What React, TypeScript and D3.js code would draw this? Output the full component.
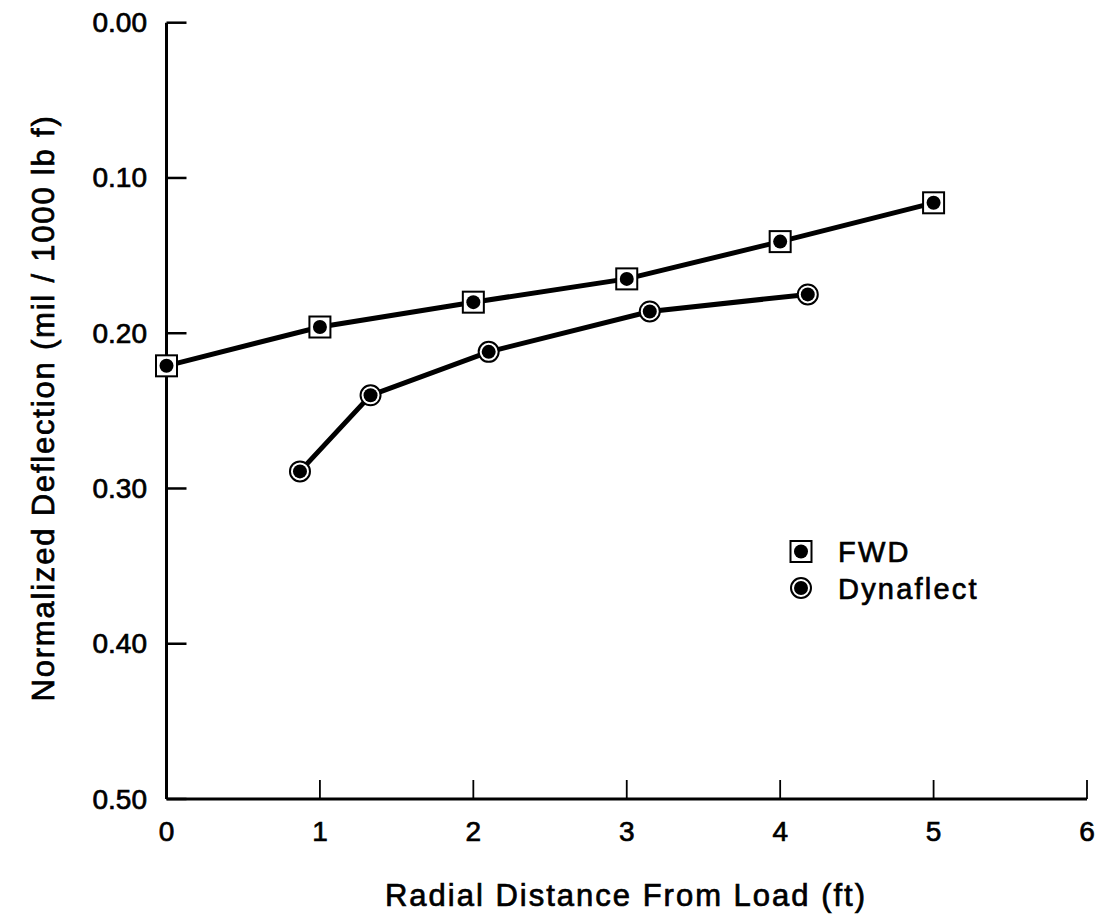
import React from "react";
import * as d3 from "d3";

const fwdX = [0, 1, 2, 3, 4, 5];
const fwdY = [0.221, 0.196, 0.18, 0.165, 0.141, 0.116];
const dynX = [0.87, 1.33, 2.1, 3.15, 4.18];
const dynY = [0.289, 0.24, 0.212, 0.186, 0.175];
const xTicks = [1, 2, 3, 4, 5, 6];
const xTickLabels = ["0", "1", "2", "3", "4", "5", "6"];
const yTicks = [0, 0.1, 0.2, 0.3, 0.4, 0.5];
const yTickLabels = ["0.00", "0.10", "0.20", "0.30", "0.40", "0.50"];

const W = 1104, H = 920;
const font = "'Liberation Sans', Arial, Helvetica, sans-serif";
const textStyle = { stroke: "#000", strokeWidth: 0.7 } as const;

export default function App() {
  const x = d3.scaleLinear().domain([0, 6]).range([166.5, 1087]);
  const y = d3.scaleLinear().domain([0, 0.5]).range([22.7, 799]);
  const line = d3.line<[number, number]>().x(d => x(d[0])).y(d => y(d[1]));
  const fwd: [number, number][] = fwdX.map((v, i) => [v, fwdY[i]]);
  const dyn: [number, number][] = dynX.map((v, i) => [v, dynY[i]]);

  const Square = ({ cx, cy }: { cx: number; cy: number }) => (
    <g>
      <rect x={cx - 10.5} y={cy - 10.5} width={21} height={21} fill="#fff" stroke="#000" strokeWidth={2} />
      <circle cx={cx} cy={cy} r={7} fill="#000" />
    </g>
  );
  const Ring = ({ cx, cy }: { cx: number; cy: number }) => (
    <g>
      <circle cx={cx} cy={cy} r={10} fill="#fff" stroke="#000" strokeWidth={2} />
      <circle cx={cx} cy={cy} r={7} fill="#000" />
    </g>
  );

  return (
    <svg width={W} height={H} style={{ position: "absolute", left: 0, top: 0, background: "#fff" }} fontFamily={font}>
      {/* axes */}
      <line x1={x(0)} x2={x(0)} y1={y(0)} y2={y(0.5)} stroke="#000" strokeWidth={3} />
      <line x1={x(0)} x2={x(6)} y1={y(0.5)} y2={y(0.5)} stroke="#000" strokeWidth={3} />
      {yTicks.map((t, i) => (
        <g key={"y" + i}>
          <line x1={x(0)} x2={x(0) + 20} y1={y(t)} y2={y(t)} stroke="#000" strokeWidth={2.5} />
          <text x={147} y={y(t)} textAnchor="end" dominantBaseline="central" fontSize={28} {...textStyle}>
            {yTickLabels[i]}
          </text>
        </g>
      ))}
      {xTicks.map((t, i) => (
        <line key={"xt" + i} x1={x(t)} x2={x(t)} y1={y(0.5)} y2={y(0.5) - 19} stroke="#000" strokeWidth={1.8} />
      ))}
      {xTickLabels.map((lab, i) => (
        <text key={"xl" + i} x={x(i)} y={831} textAnchor="middle" dominantBaseline="central" fontSize={28} {...textStyle}>
          {lab}
        </text>
      ))}
      <text x={626} y={895} textAnchor="middle" dominantBaseline="central" fontSize={31} letterSpacing={2} {...textStyle}>
        Radial Distance From Load (ft)
      </text>
      <text
        transform={`translate(54,408) rotate(-90)`}
        textAnchor="middle"
        fontSize={31}
        letterSpacing={1.8}
        {...textStyle}
      >
        Normalized Deflection (mil / 1000 lb f)
      </text>

      {/* series */}
      <path d={line(fwd) || ""} fill="none" stroke="#000" strokeWidth={5} />
      <path d={line(dyn) || ""} fill="none" stroke="#000" strokeWidth={5} />
      {fwd.map((d, i) => <Square key={"f" + i} cx={x(d[0])} cy={y(d[1])} />)}
      {dyn.map((d, i) => <Ring key={"d" + i} cx={x(d[0])} cy={y(d[1])} />)}

      {/* legend */}
      <Square cx={801} cy={551.5} />
      <text x={838} y={552} dominantBaseline="central" fontSize={29} letterSpacing={2.2} {...textStyle}>FWD</text>
      <Ring cx={801} cy={588} />
      <text x={838} y={589} dominantBaseline="central" fontSize={29} letterSpacing={2.2} {...textStyle}>Dynaflect</text>
    </svg>
  );
}
